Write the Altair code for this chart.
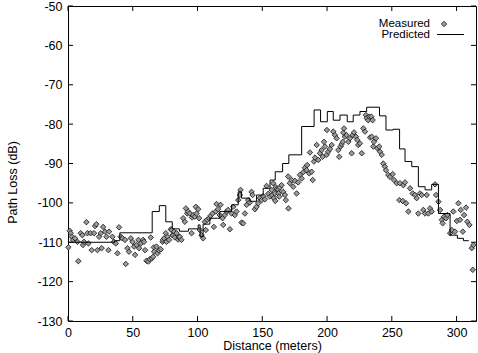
import altair as alt
import pandas as pd

# ---------------- data ----------------
meas_x = [0.3, 1.3, 2.1, 2.9, 3.9, 5.4, 7.3, 8.0, 9.8, 11.1, 11.6, 12.4, 14.2, 15.0, 15.8,
          17.5, 18.3, 20.1, 20.9, 21.9, 22.7, 24.0, 25.3, 26.0, 27.1, 28.6, 29.7, 31.2, 31.7,
          34.3, 35.5, 36.9, 38.2, 39.4, 40.7, 42.0, 44.0, 44.6, 45.9, 47.1, 48.5, 49.8, 51.0,
          51.8, 52.9, 54.4, 54.9, 56.2, 58.0, 58.7, 59.5, 60.6, 62.1, 63.1, 63.9, 64.7, 65.7,
          66.2, 66.5, 68.3, 69.1, 70.3, 71.6, 73.0, 73.4, 74.2, 75.5, 76.0, 76.8, 78.0, 79.4,
          79.9, 80.7, 81.1, 81.9, 82.5, 83.8, 85.0, 85.5, 86.3, 87.6, 88.9, 90.2, 91.0, 92.0,
          92.7, 94.1, 95.4, 95.8, 96.6, 97.9, 98.7, 99.2, 100.5, 101.2, 101.8, 103.1, 104.3,
          105.6, 106.4, 107.4, 109.0, 110.0, 111.6, 112.6, 114.1, 114.7, 115.9, 117.2, 117.8,
          119.3, 119.8, 121.1, 122.4, 123.6, 125.0, 126.3, 127.5, 128.8, 130.1, 131.4, 132.7,
          133.2, 134.0, 135.2, 136.6, 137.9, 139.1, 140.4, 141.7, 142.5, 144.3, 145.6, 146.8,
          148.1, 149.5, 150.7, 152.0, 153.3, 154.6, 155.9, 157.2, 157.6, 158.4, 158.9, 159.7,
          160.0, 160.5, 161.2, 162.3, 162.6, 163.1, 163.6, 164.9, 166.2, 167.5, 168.2, 170.0,
          170.2, 171.3, 172.6, 173.9, 175.2, 176.5, 177.7, 179.1, 180.4, 181.6, 182.9, 184.2,
          184.7, 186.2, 186.8, 188.1, 188.9, 189.9, 190.7, 192.0, 193.2, 194.5, 195.8, 196.6,
          197.6, 198.4, 199.7, 199.9, 200.9, 202.2, 203.6, 204.8, 206.1, 207.4, 208.7, 209.4,
          210.5, 211.3, 212.1, 212.5, 213.1, 213.8, 215.1, 216.4, 217.7, 219.0, 219.8, 220.8,
          222.3, 223.3, 224.1, 225.4, 226.8, 228.0, 229.3, 230.0, 230.6, 231.8, 232.6, 233.2,
          234.2, 234.5, 235.2, 235.7, 236.2, 237.8, 238.8, 240.3, 240.9, 242.2, 243.4, 244.7,
          245.5, 247.3, 248.6, 250.7, 251.7, 253.8, 255.8, 256.3, 258.4, 258.9, 260.2, 261.0,
          262.8, 264.1, 266.1, 267.9, 269.2, 270.5, 271.8, 273.1, 274.3, 275.7, 277.0, 278.2,
          279.5, 280.8, 283.4, 284.2, 286.0, 287.3, 288.6, 289.3, 290.3, 291.9, 292.9, 295.0,
          296.3, 297.5, 298.8, 300.2, 301.4, 302.7, 303.2, 304.8, 305.8, 307.3, 308.3, 309.9,
          311.7, 312.5, 313.0]
meas_y = [-111.3, -107.1, -107.7, -108.6, -109.4, -109.0, -109.9, -114.8, -107.7, -108.2, -110.7,
          -109.9, -104.9, -107.7, -110.3, -107.7, -112.0, -107.7, -105.9, -105.4, -112.0, -108.6,
          -107.7, -111.5, -106.1, -107.3, -108.6, -112.0, -107.3, -108.6, -109.9, -110.3, -112.8,
          -106.2, -108.6, -109.0, -109.4, -115.5, -111.5, -112.4, -109.0, -109.9, -111.1, -113.2,
          -110.7, -109.4, -111.5, -110.3, -109.4, -109.9, -112.0, -114.7, -114.9, -114.3, -108.8,
          -114.1, -113.7, -111.3, -112.4, -111.1, -112.8, -112.1, -111.8, -109.9, -109.4, -109.0,
          -107.7, -109.9, -108.6, -109.4, -106.7, -106.9, -108.2, -108.2, -107.3, -108.8, -107.7,
          -109.3, -108.7, -108.6, -109.4, -103.9, -104.8, -101.4, -102.7, -102.2, -102.7, -107.7,
          -103.7, -103.1, -103.5, -101.0, -102.7, -101.6, -103.9, -106.9, -108.2, -109.0, -104.8,
          -106.9, -104.3, -103.9, -103.3, -102.7, -106.1, -102.2, -100.3, -101.6, -103.1, -100.5,
          -103.9, -105.6, -103.1, -102.2, -101.8, -106.7, -102.7, -101.0, -103.1, -102.2, -99.3,
          -98.0, -96.7, -105.0, -105.2, -102.7, -100.5, -99.3, -99.9, -97.2, -98.0, -101.6,
          -101.0, -100.1, -98.8, -99.3, -98.3, -99.1, -95.7, -97.7, -98.4, -96.7, -98.0, -95.0,
          -98.8, -97.6, -99.5, -96.0, -96.5, -96.6, -97.6, -98.4, -96.1, -95.5, -97.2, -98.0,
          -99.3, -93.3, -101.4, -95.0, -94.2, -95.9, -94.4, -97.6, -94.8, -92.9, -93.8, -92.2,
          -91.1, -91.7, -90.4, -92.5, -87.2, -92.1, -94.2, -89.5, -88.5, -85.3, -89.1, -87.4,
          -86.6, -88.3, -84.5, -85.7, -87.8, -81.5, -87.0, -86.3, -85.3, -81.9, -82.8, -83.6,
          -86.6, -88.3, -85.7, -85.1, -84.5, -82.2, -81.1, -83.2, -82.8, -84.5, -83.6, -87.4,
          -82.8, -82.1, -83.2, -84.0, -85.3, -84.9, -87.4, -81.1, -81.9, -77.7, -78.5, -79.0,
          -78.1, -83.4, -78.1, -83.2, -79.0, -85.7, -84.5, -83.6, -86.1, -85.7, -87.0, -87.8,
          -90.0, -90.8, -91.7, -92.9, -93.4, -92.7, -94.2, -95.0, -99.3, -95.0, -99.5, -95.5,
          -94.8, -100.1, -102.2, -96.3, -97.6, -98.0, -98.8, -102.7, -97.6, -98.0, -101.8,
          -102.7, -98.0, -102.7, -101.4, -102.2, -95.3, -98.0, -99.7, -101.8, -104.3, -105.2,
          -103.5, -103.9, -103.1, -107.7, -106.9, -102.2, -107.3, -104.6, -100.1, -104.3,
          -101.8, -107.3, -103.1, -101.2, -104.8, -105.6, -111.5, -117.0, -110.7]

pred_x = [0, 36, 40, 65, 70.5, 75.5, 80.5, 86, 93, 100.5, 102, 104.3, 109.5, 117.2, 126.3,
          131.4, 134, 140.4, 145.6, 150.7, 156, 160, 165.7, 170.5, 180.4, 190, 195, 200.2,
          204.8, 210, 215.6, 220.2, 225.4, 230.6, 240.5, 245.5, 251, 256, 260.2, 265.4,
          270.5, 275.7, 280.8, 286, 295, 300.6, 305.3, 309.4]
pred_y = [-110.0, -109.6, -107.6, -102.2, -100.7, -104.8, -106.6, -107.2, -106.6, -105.6,
          -108.6, -105.4, -103.9, -102.2, -100.5, -97.2, -98.8, -99.6, -98.0, -96.3, -94.2,
          -92.1, -90.0, -87.8, -80.6, -76.4, -79.4, -76.8, -79.0, -77.7, -79.4, -77.7, -76.8,
          -75.7, -77.9, -81.5, -81.3, -86.3, -89.5, -90.8, -95.9, -96.7, -95.3, -102.7,
          -108.2, -109.0, -109.6, -109.6]

x_ticks = [0, 50, 100, 150, 200, 250, 300]
y_ticks = [-130, -120, -110, -100, -90, -80, -70, -60, -50]
legend_labels = ["Measured", "Predicted"]

# ---------------- chart ----------------
W, H = 408, 315
FONT = "Liberation Sans"
FS = 12.5
LFS = 11.5
TL = 5  # inward tick length

xs = alt.Scale(domain=[0, 315], nice=False, zero=False)
ys = alt.Scale(domain=[-130, -50], nice=False, zero=False)

xaxis = alt.Axis(values=x_ticks, title="Distance (meters)", grid=False, domain=False,
                 ticks=False, tickSize=0, labelFlush=False, labelOverlap=False,
                 labelExpr="'' + datum.value",
                 labelBaseline="alphabetic", labelPadding=15,
                 titleX=204, titleY=28, titleBaseline="alphabetic", titleAlign="center")
yaxis = alt.Axis(values=y_ticks, title="Path Loss (dB)", grid=False, domain=False,
                 ticks=False, tickSize=0, labelFlush=False, labelOverlap=False,
                 labelExpr="'' + datum.value",
                 labelPadding=6, titleX=-56, titleY=176, titleAngle=270,
                 titleBaseline="middle", titleAlign="center")

X = alt.X("x:Q", scale=xs, axis=xaxis)
Y = alt.Y("y:Q", scale=ys, axis=yaxis)

meas = pd.DataFrame({"x": meas_x, "y": meas_y})
pred = pd.DataFrame({"x": pred_x, "y": pred_y})
xt = pd.DataFrame({"x": x_ticks})
yt = pd.DataFrame({"y": y_ticks})

tick_bottom = alt.Chart(xt).mark_rule(color="black", strokeWidth=1).encode(
    x=X, y=alt.value(H), y2=alt.value(H - TL))
tick_top = alt.Chart(xt).mark_rule(color="black", strokeWidth=1).encode(
    x=X, y=alt.value(0), y2=alt.value(TL))
tick_left = alt.Chart(yt).mark_rule(color="black", strokeWidth=1).encode(
    y=Y, x=alt.value(0), x2=alt.value(TL))
tick_right = alt.Chart(yt).mark_rule(color="black", strokeWidth=1).encode(
    y=Y, x=alt.value(W), x2=alt.value(W - TL))

points = alt.Chart(meas).mark_point(
    shape="diamond", filled=True, fill="#9a9a9a", stroke="#111111",
    strokeWidth=0.8, size=30, opacity=1
).encode(x=X, y=Y)

line = alt.Chart(pred).mark_line(
    interpolate="step-after", color="black", strokeWidth=1
).encode(x=X, y=Y)

leg = alt.Data(values=[{"a": 1}])
leg_t1 = alt.Chart(leg).mark_text(
    text=legend_labels[0], align="right", baseline="middle", font=FONT, fontSize=LFS,
    color="black").encode(x=alt.value(362), y=alt.value(18))
leg_t2 = alt.Chart(leg).mark_text(
    text=legend_labels[1], align="right", baseline="middle", font=FONT, fontSize=LFS,
    color="black").encode(x=alt.value(362), y=alt.value(28.5))
leg_pt = alt.Chart(leg).mark_point(
    shape="diamond", filled=True, fill="#9a9a9a", stroke="#111111", strokeWidth=0.8,
    size=30, opacity=1).encode(x=alt.value(376), y=alt.value(18))
leg_ln = alt.Chart(leg).mark_rule(color="black", strokeWidth=1).encode(
    x=alt.value(369), x2=alt.value(396), y=alt.value(28.5))

chart = alt.layer(
    tick_bottom, tick_top, tick_left, tick_right, points, line,
    leg_t1, leg_t2, leg_pt, leg_ln
).properties(
    width=W, height=H,
    autosize=alt.AutoSizeParams(type="none"),
    padding={"left": 68, "top": 6, "right": 2, "bottom": 32},
    background="white",
).configure_view(
    stroke="black", strokeWidth=1
).configure_axis(
    labelFont=FONT, labelFontSize=FS, labelColor="black",
    titleFont=FONT, titleFontSize=FS, titleFontWeight="normal", titleColor="black",
)

chart.save("out.html", embed_options={"renderer": "svg", "actions": False})
